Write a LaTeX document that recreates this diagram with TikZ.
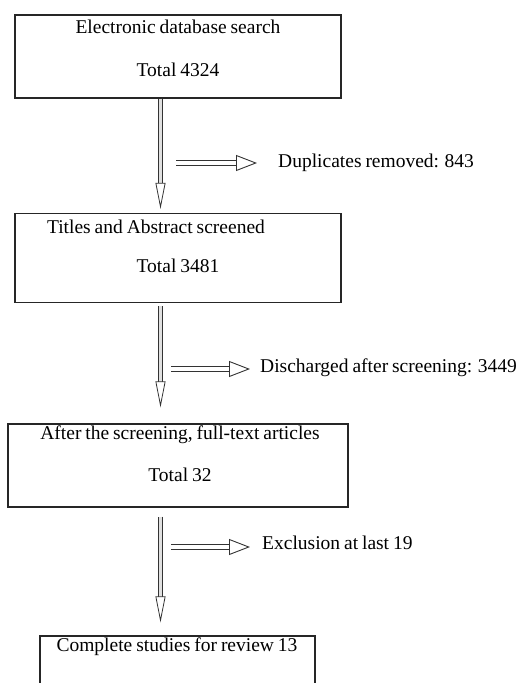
\documentclass[tikz,border=0pt]{standalone}
\usepackage{fontspec}
\setmainfont{Liberation Serif}[WordSpace=0.8]
\usetikzlibrary{arrows.meta}
\usetikzlibrary{calc}

\tikzset{
  box/.style={draw=black!85, line width=1.2pt, rectangle, inner sep=0pt},
  txt/.style={inner sep=0pt, font=\fontsize{19.5}{23}\selectfont},
  down/.style={draw=black!80, line width=0.7pt, double=black!12, double distance=3pt,
    -{Triangle[open, fill=white, length=26pt, width=10pt, line width=0.8pt]}},
  side/.style={draw=black!80, line width=0.9pt, double=white, double distance=4.5pt,
    -{Triangle[open, fill=white, length=21pt, width=16pt, line width=0.9pt]}}
}

\begin{document}
\begin{tikzpicture}[x=1pt,y=-1pt]
        \useasboundingbox (0,0) rectangle (520,683);
        \clip (0,0) rectangle (520,683);

        % boxes
        \node[box, minimum width=326pt, minimum height=83pt] (b1) at (178,56.5) {};
        \node[txt] (b1a) at (178,27) {Electronic database search};
        \node[txt] (b1b) at (178,70) {Total 4324};

        \node[box, minimum width=326pt, minimum height=89pt] (b2) at (178,258) {};
        \node[txt] (b2a) at (156,227) {Titles and Abstract screened};
        \node[txt] (b2b) at (178,266) {Total 3481};

        \node[box, minimum width=340pt, minimum height=83pt] (b3) at (178,465.5) {};
        \node[txt] (b3a) at (180,435) {After the screening, full-text articles};
        \node[txt] (b3b) at (180,475) {Total 32};

        \node[box, minimum width=275pt, minimum height=80pt] (b4) at (177.5,676) {};
        \node[txt] (b4a) at (177,647) {Complete studies for review 13};

        % side notes
        \node[txt, anchor=west] (d1) at (278,163) {Duplicates removed: 843};
        \node[txt, anchor=west] (d2) at (260,368) {Discharged after screening: 3449};
        \node[txt, anchor=west] (d3) at (262,543) {Exclusion at last 19};

        \coordinate (s1) at (176,163);
        \coordinate (s2) at (171,369);
        \coordinate (s3) at (171,547);

        % arrows
        \draw[down] ([xshift=-17.5pt]b1.south) -- ([xshift=-17.5pt,yshift=4pt]b2.north);
        \draw[down] ([xshift=-17.5pt,yshift=-3pt]b2.south) -- ([xshift=-17.5pt,yshift=16pt]b3.north);
        \draw[down] ([xshift=-17.5pt,yshift=-9pt]b3.south) -- ([xshift=-17pt,yshift=13pt]b4.north);

        \draw[side] (s1) -- ($(d1.west |- s1)+(-21,0)$);
        \draw[side] (s2) -- ($(d2.west |- s2)+(-10,0)$);
        \draw[side] (s3) -- ($(d3.west |- s3)+(-12,0)$);
    \end{tikzpicture}
\end{document}
